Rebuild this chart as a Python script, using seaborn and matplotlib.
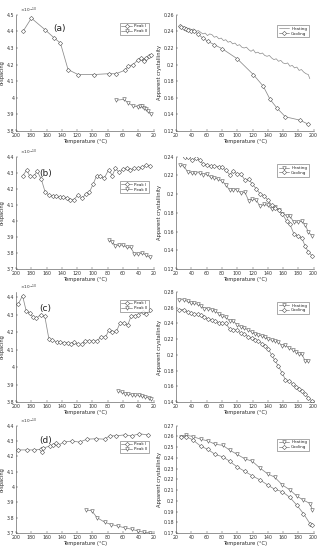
import numpy as np
import pandas as pd
import matplotlib
matplotlib.use("Agg")
import matplotlib.pyplot as plt
import seaborn as sns
from matplotlib.ticker import FuncFormatter

# ---------------- data (d-spacing in 1e-10 m, crystallinity fraction) ----------------
# (a)
a_p1_t = [191, 180, 162, 150, 142, 132, 119, 98, 79, 69, 58, 53, 47, 40, 36.5, 33, 32, 30, 26.5, 23.5]
a_p1_d = [4.40, 4.48, 4.41, 4.36, 4.33, 4.17, 4.14, 4.14, 4.145, 4.145, 4.165, 4.19, 4.20, 4.23, 4.24, 4.23, 4.22, 4.24, 4.25, 4.26]
a_p2_t = [69, 59, 53.5, 46.5, 40, 37.5, 35, 32, 29.5, 27, 24]
a_p2_d = [3.985, 3.99, 3.97, 3.95, 3.945, 3.95, 3.95, 3.94, 3.93, 3.92, 3.90]
a_heat_t = [25, 27, 29, 31, 33, 35, 37, 40, 43, 46, 49, 52, 55, 58, 61, 64, 67, 70, 73, 76,
            79, 82, 85, 88, 91, 94, 97, 100, 103, 106, 109, 112, 115, 118, 121, 124, 127, 130, 133, 136,
            139, 142, 145, 148, 151, 154, 157, 160, 163, 166, 169, 172, 175, 178, 181, 184, 187, 190, 193, 195]
a_heat_c = [0.247, 0.245, 0.246, 0.244, 0.245, 0.243, 0.244, 0.242, 0.243, 0.240, 0.241, 0.239, 0.237, 0.238, 0.235, 0.237, 0.236, 0.233, 0.234, 0.231,
            0.232, 0.229, 0.230, 0.227, 0.228, 0.225, 0.226, 0.223, 0.224, 0.221, 0.220, 0.221, 0.218, 0.216, 0.218, 0.214, 0.215, 0.213, 0.214, 0.211,
            0.210, 0.211, 0.208, 0.206, 0.207, 0.204, 0.205, 0.202, 0.201, 0.202, 0.198, 0.199, 0.196, 0.197, 0.193, 0.194, 0.191, 0.189, 0.188, 0.183]
a_cool_t = [25, 27, 30, 33, 36, 40, 44, 48.5, 55, 61.7, 70, 80.5, 100, 121, 134, 143, 151.6, 163, 182, 193]
a_cool_c = [0.246, 0.245, 0.244, 0.243, 0.242, 0.241, 0.240, 0.237, 0.232, 0.228, 0.224, 0.219, 0.207, 0.188, 0.174, 0.158, 0.148, 0.137, 0.133, 0.128]

# (b)
b_p1_t = [191, 186, 182, 177, 172.5, 167, 162, 157, 152, 148, 143, 138, 133, 129, 124.6, 119, 114, 108, 104, 99,
          94.5, 90, 84.5, 79, 74, 70, 65, 60, 55, 50.5, 45, 40, 35, 30, 25]
b_p1_d = [4.283, 4.318, 4.277, 4.277, 4.31, 4.26, 4.18, 4.16, 4.157, 4.153, 4.147, 4.147, 4.143, 4.13, 4.133, 4.16, 4.143, 4.167, 4.18, 4.23,
          4.283, 4.277, 4.267, 4.318, 4.283, 4.328, 4.303, 4.322, 4.332, 4.318, 4.328, 4.328, 4.336, 4.348, 4.344]
b_p2_t = [79, 74, 70, 65, 60, 55, 50, 45, 40, 35, 30, 25]
b_p2_d = [3.879, 3.869, 3.844, 3.85, 3.848, 3.834, 3.834, 3.793, 3.793, 3.80, 3.787, 3.772]
b_heat_t = [25.7, 30, 35, 40.6, 45, 50.7, 55, 60, 65, 70, 75, 80.5, 85, 90, 94.6, 100, 104.6, 110, 115, 119.6,
            125, 130, 135, 140, 145, 149, 154.6, 159, 164.7, 169, 174, 179, 184.5, 189, 193, 198.5]
b_heat_c = [0.2311, 0.230, 0.224, 0.2226, 0.2226, 0.223, 0.221, 0.2216, 0.218, 0.2177, 0.216, 0.2138, 0.210, 0.2045, 0.2049, 0.2049, 0.201, 0.202, 0.193, 0.195,
            0.1935, 0.1868, 0.189, 0.188, 0.1843, 0.186, 0.183, 0.179, 0.177, 0.1766, 0.170, 0.170, 0.171, 0.1673, 0.1595, 0.155]
b_cool_t = [31, 35, 40.6, 46, 50.7, 55.5, 60, 65, 70, 75.7, 80, 85, 90, 95, 100, 104.6, 110, 115, 119.6, 125,
            130, 135, 140, 145, 149, 154.6, 159, 164.7, 169, 174, 179, 184.5, 189, 193, 198.5]
b_cool_c = [0.240, 0.2393, 0.2368, 0.2382, 0.2365, 0.232, 0.2315, 0.2297, 0.230, 0.2294, 0.2287, 0.2258, 0.2209, 0.2244, 0.2216, 0.2216, 0.2152, 0.2162, 0.2109, 0.2056,
            0.2003, 0.1985, 0.1939, 0.1879, 0.1854, 0.1826, 0.179, 0.1712, 0.1677, 0.1578, 0.1553, 0.1532, 0.1443, 0.1383, 0.1337]

# (c)
c_p1_t = [197, 191.6, 186.7, 182, 177.8, 173.4, 168, 162.4, 157, 152.7, 147, 142.5, 137, 132.7, 128, 124, 119.5, 114, 110, 104,
          99.6, 94, 88.5, 83, 78.8, 74, 68.6, 63.7, 58.4, 54, 49.6, 44.2, 40, 34.5, 30, 24.3]
c_p1_d = [4.362, 4.41, 4.32, 4.31, 4.285, 4.28, 4.30, 4.29, 4.16, 4.155, 4.145, 4.145, 4.14, 4.14, 4.135, 4.145, 4.13, 4.13, 4.15, 4.15,
          4.15, 4.15, 4.175, 4.17, 4.21, 4.20, 4.205, 4.255, 4.25, 4.24, 4.29, 4.295, 4.30, 4.315, 4.305, 4.33]
c_p2_t = [66, 61.5, 57, 53, 48.5, 44, 39.6, 35, 30.7, 26.3, 22.8]
c_p2_d = [3.861, 3.856, 3.848, 3.846, 3.842, 3.842, 3.838, 3.833, 3.829, 3.823, 3.817]
c_heat_t = [24.4, 30, 35, 39.7, 44, 48.5, 53, 57, 61.7, 67, 71, 75.7, 80.5, 85, 90, 94.6, 100, 104.6, 109, 114,
            118.7, 123, 127.5, 132, 136, 140.6, 145, 149, 154, 159, 163, 168, 172.6, 177, 181, 184.5, 189, 193]
c_heat_c = [0.2702, 0.2702, 0.268, 0.2657, 0.2657, 0.2644, 0.2622, 0.259, 0.259, 0.2577, 0.256, 0.2524, 0.249, 0.248, 0.2435, 0.2435, 0.238, 0.236, 0.2337, 0.2323,
            0.2292, 0.227, 0.2256, 0.2243, 0.2225, 0.2198, 0.2189, 0.2175, 0.2166, 0.2108, 0.2122, 0.2086, 0.2068, 0.2042, 0.201, 0.201, 0.1922, 0.1922]
c_cool_t = [24.4, 30, 35, 39.7, 44, 48.5, 53, 57, 61.7, 67, 71, 75.7, 80.5, 85, 90, 94.6, 100, 104.6, 109, 114,
            118.7, 123, 127.5, 132, 136, 140.6, 145, 149, 154, 159, 163, 168, 172.6, 177, 181, 184.5, 189, 193, 198]
c_cool_c = [0.2577, 0.2577, 0.2546, 0.2532, 0.2524, 0.2515, 0.2510, 0.2479, 0.2457, 0.2444, 0.2426, 0.2412, 0.2403, 0.240, 0.2332, 0.2323, 0.2314, 0.2278, 0.227, 0.2234,
            0.2212, 0.219, 0.2181, 0.2145, 0.2113, 0.2078, 0.1998, 0.1935, 0.1855, 0.1766, 0.1685, 0.1663, 0.1632, 0.1588, 0.1566, 0.1535, 0.1499, 0.1454, 0.141]

# (d)
d_p1_t = [198, 186, 176, 168, 166, 165, 156, 152, 147.6, 144.5, 137.5, 127, 117, 107, 95, 84, 77.7, 69, 58, 48.5, 38.5, 27.5]
d_p1_d = [4.242, 4.242, 4.242, 4.245, 4.23, 4.253, 4.267, 4.273, 4.286, 4.273, 4.293, 4.30, 4.293, 4.312, 4.315, 4.312, 4.334, 4.334, 4.34, 4.334, 4.347, 4.34]
d_p2_t = [108, 101, 94, 84, 75.5, 67, 58, 48.5, 40.6, 32, 25]
d_p2_d = [3.849, 3.845, 3.80, 3.77, 3.755, 3.745, 3.734, 3.724, 3.713, 3.704, 3.70]
d_heat_t = [26.6, 33, 42, 52, 61.7, 71, 81, 90, 100, 110, 119.6, 129.6, 139.7, 149, 159, 169, 178, 186.7, 195.4, 198.5]
d_heat_c = [0.2599, 0.2612, 0.2599, 0.2574, 0.2558, 0.2527, 0.2517, 0.2473, 0.2432, 0.2391, 0.2369, 0.2306, 0.2252, 0.222, 0.2148, 0.2101, 0.2044, 0.2006, 0.1974, 0.191]
d_cool_t = [26.6, 33, 42, 52, 61.7, 71, 81, 90, 100, 110, 119.6, 129.6, 139.7, 149, 159, 169, 178, 186.7, 195.4, 198.5]
d_cool_c = [0.2599, 0.2599, 0.2567, 0.251, 0.2479, 0.2432, 0.241, 0.2369, 0.2315, 0.2274, 0.2233, 0.2195, 0.2148, 0.2107, 0.2085, 0.2031, 0.1959, 0.188, 0.1785, 0.177]

panel_labels = ["(a)", "(b)", "(c)", "(d)"]
left_ylims = [(3.8, 4.5), (3.7, 4.4), (3.8, 4.43), (3.7, 4.4)]
right_ylims = [(0.12, 0.26), (0.12, 0.24), (0.14, 0.28), (0.17, 0.27)]

# ---------------- style ----------------
sns.set_style("ticks")
plt.rcParams["font.family"] = ["DejaVu Sans"]
FS = 3.4
LINE = "#8a8a8a"
EDGE = "#555555"

fig = plt.figure(figsize=(3.22, 5.5), dpi=100)

# rows: (bottom, height) in figure fraction
rows = [(0.762, 0.211), (0.511, 0.204), (0.269, 0.200), (0.031, 0.195)]
left_x, right_x, w = 0.050, 0.547, 0.427


def series(ax, t, v, marker, label, ms=2.6):
    sns.lineplot(x=t, y=v, ax=ax, color=LINE, lw=0.55, marker=marker, markersize=ms,
                 markerfacecolor="white", markeredgecolor=EDGE, markeredgewidth=0.4,
                 label=label, sort=False, errorbar=None)


def style(ax, ylabel):
    for s in ["top", "right"]:
        ax.spines[s].set_visible(False)
    for s in ["left", "bottom"]:
        ax.spines[s].set_linewidth(0.4)
        ax.spines[s].set_color("#444444")
    ax.tick_params(labelsize=FS, width=0.3, length=1.5, direction="in", pad=1.2, colors="#333333")
    ax.set_xlabel("Temperature (°C)", fontsize=FS + 0.3, labelpad=0.8)
    ax.set_ylabel(ylabel, fontsize=FS + 0.3, labelpad=1.5)
    ax.yaxis.set_major_formatter(FuncFormatter(lambda v, p: "%g" % round(v, 3)))


def legend(ax, labels_pos):
    lg = ax.legend(loc="upper right", bbox_to_anchor=labels_pos, fontsize=FS - 0.4,
                   frameon=True, fancybox=False, edgecolor="#444444", borderpad=0.4,
                   handlelength=2.6, labelspacing=0.2, handletextpad=0.4)
    lg.get_frame().set_linewidth(0.4)


left_data = [
    (a_p1_t, a_p1_d, a_p2_t, a_p2_d),
    (b_p1_t, b_p1_d, b_p2_t, b_p2_d),
    (c_p1_t, c_p1_d, c_p2_t, c_p2_d),
    (d_p1_t, d_p1_d, d_p2_t, d_p2_d),
]
right_data = [
    (a_heat_t, a_heat_c, a_cool_t, a_cool_c),
    (b_heat_t, b_heat_c, b_cool_t, b_cool_c),
    (c_heat_t, c_heat_c, c_cool_t, c_cool_c),
    (d_heat_t, d_heat_c, d_cool_t, d_cool_c),
]
left_leg = [(0.98, 0.95), (0.98, 0.80), (0.98, 0.95), (0.98, 0.88)]
right_leg = [(0.98, 0.93), (0.98, 0.95), (0.98, 0.93), (0.98, 0.90)]
label_pos = [(0.27, 0.88), (0.17, 0.85), (0.17, 0.85), (0.17, 0.86)]

for i, (bot, h) in enumerate(rows):
    # d-spacing panel
    axl = fig.add_axes([left_x, bot, w, h])
    t1, d1, t2, d2 = left_data[i]
    series(axl, t1, d1, "D", "Peak I", ms=2.2)
    series(axl, t2, d2, "v", "Peak II")
    axl.set_xlim(200, 20)
    axl.set_xticks(np.arange(200, 19, -20))
    axl.set_ylim(*left_ylims[i])
    axl.set_yticks(np.round(np.arange(left_ylims[i][0], left_ylims[i][1] + 1e-6, 0.1), 1))
    style(axl, "d-spacing")
    axl.text(0.03, 1.0, r"$\times10^{-10}$", transform=axl.transAxes, fontsize=FS - 0.3,
             ha="left", va="bottom", color="#333333")
    axl.text(*label_pos[i], panel_labels[i], transform=axl.transAxes, fontsize=6.5,
             ha="left", va="center", color="#222222")
    legend(axl, left_leg[i])

    # crystallinity panel
    axr = fig.add_axes([right_x, bot, w, h])
    ht, hc, ct, cc = right_data[i]
    if i == 0:
        sns.lineplot(x=ht, y=hc, ax=axr, color=LINE, lw=0.5, label="Heating", sort=False, errorbar=None)
    else:
        series(axr, ht, hc, "v", "Heating")
    series(axr, ct, cc, "D", "Cooling", ms=2.2)
    axr.set_xlim(20, 200)
    axr.set_xticks(np.arange(20, 201, 20))
    lo, hi = right_ylims[i]
    step = 0.01 if i == 3 else 0.02
    axr.set_ylim(lo, hi)
    axr.set_yticks(np.round(np.arange(lo, hi + 1e-6, step), 2))
    style(axr, "Apparent crystallinity")
    legend(axr, right_leg[i])

fig.savefig("out.png", dpi=100)
